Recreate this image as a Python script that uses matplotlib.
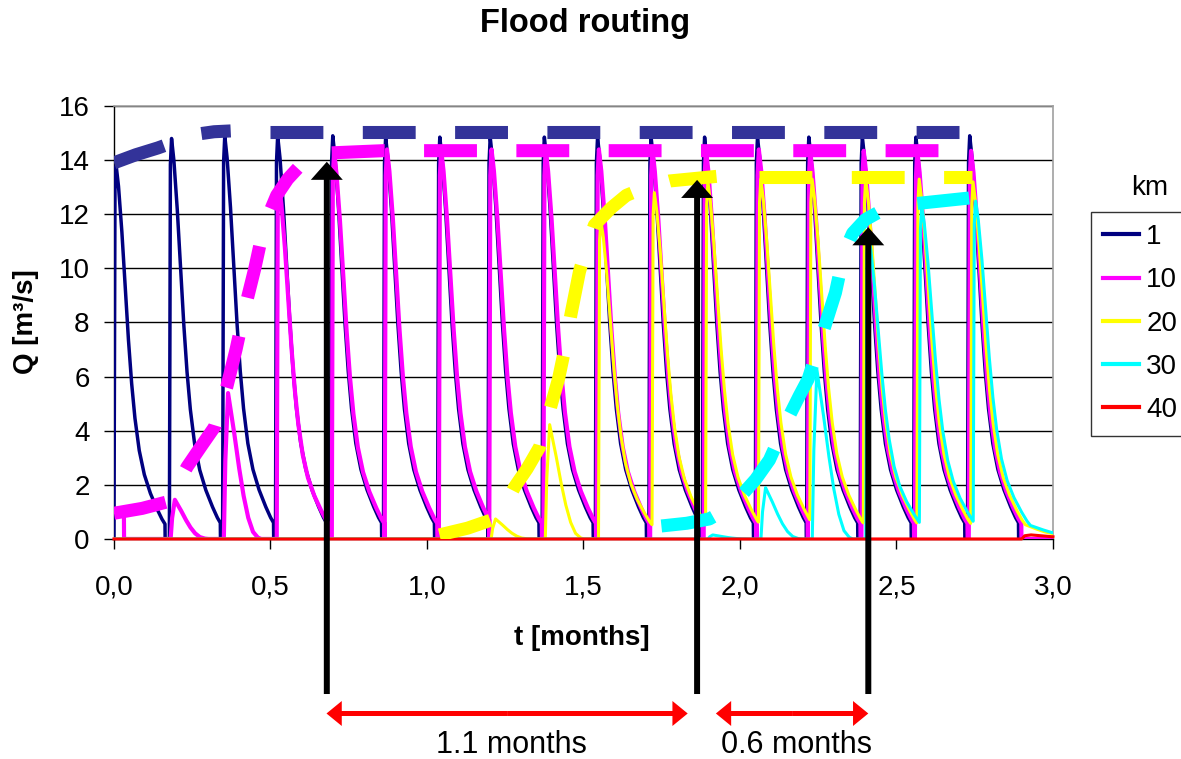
import numpy as np
import matplotlib
matplotlib.use("Agg")
import matplotlib.pyplot as plt

plt.rcParams["font.family"] = ["Liberation Sans", "DejaVu Sans"]

# ---------------------------------------------------------------- data
stations = ["1", "10", "20", "30", "40"]
line_colors = ["#000080", "#ff00ff", "#ffff00", "#00ffff", "#ff0000"]
line_widths = [2.5, 3.0, 2.2, 2.2, 2.2]
envelope_colors = ["#333399", "#ff00ff", "#ffff00", "#00ffff"]

# start of each rainfall pulse [months]
pulse_start = [0.000, 0.177, 0.347, 0.516, 0.692, 0.861, 1.034, 1.195, 1.368,
               1.538, 1.709, 1.880, 2.049, 2.213, 2.384, 2.555, 2.727]

# peak discharge of every pulse at each station [m3/s]
peak_km1 = [13.8, 14.8, 14.9, 14.9, 14.9, 14.85, 14.85, 14.85, 14.85,
            14.85, 14.85, 14.85, 14.85, 14.85, 14.85, 14.85, 14.9]
peak_km10 = [0.0, 1.45, 5.4, 13.1, 14.3, 14.4, 14.4, 14.4, 14.4,
             14.4, 14.4, 14.4, 14.4, 14.35, 14.35, 14.35, 14.35]
peak_km20 = [0.0, 0.0, 0.0, 0.0, 0.0, 0.0, 0.0, 0.74, 4.23,
             11.8, 12.8, 13.2, 13.3, 13.3, 13.3, 13.3, 13.2]
peak_km30 = [0.0, 0.0, 0.0, 0.0, 0.0, 0.0, 0.0, 0.0, 0.0,
             0.0, 0.0, 0.15, 1.9, 6.27, 11.3, 12.3, 12.5]

# initial flow at km 10 before it drains away
km10_initial_q = 1.0
km10_initial_until = 0.032

# pulses that reach a station only partly (no base flow behind them)
partial_km10 = [0, 1, 2]
partial_km20 = [7, 8]
partial_km30 = [11, 12, 13]

# travel lag [months] and spreading of the hydrograph at each station
travel_lag = [0.000, 0.004, 0.010, 0.018]
spreading = [1.00, 1.03, 1.07, 1.12]

# hydrograph of one pulse: time after onset [months], Q / Qpeak
full_dt = [0.000, 0.003, 0.007, 0.014, 0.024, 0.034, 0.044, 0.055, 0.066,
           0.080, 0.096, 0.115, 0.135, 0.152, 0.163]
full_ratio = [0.00, 0.93, 1.00, 0.95, 0.84, 0.70, 0.56, 0.43, 0.33,
              0.24, 0.175, 0.125, 0.085, 0.055, 0.040]
# recession tail further downstream
tail_dt = [0.190, 0.220, 0.260, 0.300]
tail_ratio = [0.030, 0.020, 0.012, 0.006]
# partly arriving pulse
partial_dt = [0.000, 0.004, 0.013, 0.030, 0.045, 0.060, 0.075, 0.090, 0.105, 0.115]
partial_ratio = [0.00, 0.50, 1.00, 0.76, 0.52, 0.31, 0.15, 0.05, 0.01, 0.00]

# km 40: only the first water at the very end
km40_t = [0.000, 2.900, 2.910, 2.930, 2.960, 3.000]
km40_q = [0.000, 0.000, 0.120, 0.150, 0.120, 0.080]

# sketched envelopes of the peaks: rising limb and plateau
env_km1_rise_t = [0.000, 0.070, 0.140, 0.200, 0.271, 0.320, 0.373]
env_km1_rise_q = [13.9, 14.2, 14.45, 14.7, 14.97, 15.05, 15.08]
env_km1_top_t = [0.498, 2.700]
env_km1_top_q = [15.05, 15.05]

env_km10_rise_t = [0.000, 0.090, 0.173, 0.234, 0.280, 0.322, 0.360, 0.390,
                   0.420, 0.450, 0.480, 0.520, 0.555, 0.587]
env_km10_rise_q = [0.95, 1.13, 1.38, 2.67, 3.45, 4.15, 5.6, 7.0,
                   8.6, 10.0, 11.6, 12.7, 13.3, 13.7]
env_km10_top_t = [0.696, 0.860, 2.700]
env_km10_top_q = [14.27, 14.35, 14.35]

env_km20_rise_t = [1.040, 1.130, 1.230, 1.280, 1.320, 1.360, 1.398, 1.420,
                   1.440, 1.460, 1.487, 1.510, 1.535, 1.590, 1.637, 1.700,
                   1.775, 1.925]
env_km20_rise_q = [0.15, 0.4, 0.8, 1.92, 2.6, 3.4, 5.0, 5.9,
                   7.0, 8.3, 9.87, 10.8, 11.6, 12.25, 12.7, 13.0,
                   13.23, 13.4]
env_km20_top_t = [2.062, 2.742]
env_km20_top_q = [13.39, 13.39]

env_km30_rise_t = [1.749, 1.830, 1.902, 1.950, 2.000, 2.050, 2.094, 2.154,
                   2.190, 2.218, 2.264, 2.305, 2.333, 2.360, 2.400, 2.439]
env_km30_rise_q = [0.48, 0.58, 0.74, 1.05, 1.55, 2.2, 2.92, 4.47,
                   5.3, 5.91, 7.6, 9.1, 10.6, 11.3, 11.8, 12.05]
env_km30_top_t = [2.567, 2.732]
env_km30_top_q = [12.4, 12.6]

# arrival of the flood front
arrival_t = [0.680, 1.863, 2.410]
arrival_q = [13.94, 13.27, 11.52]
arrow_base_q = -5.73
span_q = -6.45
span_from = [0.679, 1.923]
span_to = [1.833, 2.410]
span_labels = ["1.1 months", "0.6 months"]
span_label_t = [1.270, 2.182]
span_label_q = -7.6

# ---------------------------------------------------------------- series
t = np.linspace(0.0, 3.0, 12001)
ext_dt = full_dt + tail_dt
ext_ratio = full_ratio + tail_ratio
i_peak = int(np.argmax(full_ratio))


def hydrograph(peaks, partial, lag, spread, drops):
    q = np.zeros_like(t)
    starts = np.array(pulse_start) + lag
    ends = np.append(starts[1:], np.inf)
    carry = 0.0
    for k, (s, e, p) in enumerate(zip(starts, ends, peaks)):
        m = (t >= s) & (t < e)
        if p <= 0:
            carry = 0.0
            continue
        dt = (t[m] - s) / spread
        if k in partial:
            seg = p * np.interp(dt, partial_dt, partial_ratio, right=0.0)
        elif drops:
            seg = p * np.interp(dt, full_dt, full_ratio, right=0.0)
        else:
            seg = p * np.interp(dt, ext_dt, ext_ratio, right=0.0)
            rising = dt < full_dt[i_peak]
            seg[rising] = np.maximum(seg[rising], carry)
        q[m] = seg
        carry = seg[-1] if seg.size else 0.0
    return q


q_km1 = hydrograph(peak_km1, [], travel_lag[0], spreading[0], True)
q_km10 = hydrograph(peak_km10, partial_km10, travel_lag[1], spreading[1], True)
q_km10[t < km10_initial_until] = km10_initial_q
q_km20 = hydrograph(peak_km20, partial_km20, travel_lag[2], spreading[2], False)
q_km30 = hydrograph(peak_km30, partial_km30, travel_lag[3], spreading[3], False)
series = [q_km1, q_km10, q_km20, q_km30]

# ---------------------------------------------------------------- figure
fig = plt.figure(figsize=(11.81, 7.59), dpi=100)
ax = fig.add_axes([0.0965, 0.2899, 0.7951, 0.5704])

ax.set_xlim(0, 3)
ax.set_ylim(0, 16)
ax.set_yticks(np.arange(0, 17, 2))
ax.set_xticks(np.arange(0, 3.01, 0.5))
ax.set_xticklabels([f"{v:.1f}".replace(".", ",") for v in np.arange(0, 3.01, 0.5)])
ax.yaxis.grid(True, color="black", linewidth=1.0)
ax.set_axisbelow(True)
for side in ("top", "right"):
    ax.spines[side].set_color("#a0a0a0")
    ax.spines[side].set_linewidth(1.2)
for side in ("left", "bottom"):
    ax.spines[side].set_color("black")
    ax.spines[side].set_linewidth(1.0)
ax.tick_params(axis="y", length=7, width=1, pad=10.5, labelsize=20)
ax.tick_params(axis="x", length=7, width=1, pad=18.5, labelsize=20)

handles = []
for q, c, w, name in zip(series, line_colors, line_widths, stations):
    h, = ax.plot(t, q, color=c, lw=w, label=name, zorder=3)
    handles.append(h)
h40, = ax.plot(km40_t, km40_q, color=line_colors[4], lw=line_widths[4],
               label=stations[4], zorder=3, clip_on=False)
handles.append(h40)

envelopes = [
    (env_km1_rise_t, env_km1_rise_q, env_km1_top_t, env_km1_top_q),
    (env_km10_rise_t, env_km10_rise_q, env_km10_top_t, env_km10_top_q),
    (env_km20_rise_t, env_km20_rise_q, env_km20_top_t, env_km20_top_q),
    (env_km30_rise_t, env_km30_rise_q, env_km30_top_t, env_km30_top_q),
]
for (rt, rq, tt, tq), c in zip(envelopes, envelope_colors):
    for et, eq in ((rt, rq), (tt, tq)):
        ax.plot(et, eq, color=c, lw=9.4, linestyle=(0, (4.05, 3.02)), zorder=4,
                dash_capstyle="butt", dash_joinstyle="round")

# flood front arrivals
for ta, qa in zip(arrival_t, arrival_q):
    ax.annotate("", xy=(ta, qa), xytext=(ta, arrow_base_q),
                arrowprops=dict(facecolor="black", edgecolor="none", width=4.3,
                                headwidth=23, headlength=13, shrink=0),
                annotation_clip=False, zorder=6)

# travel times between the stations
for a, b, lab, tl in zip(span_from, span_to, span_labels, span_label_t):
    mid = 0.5 * (a + b)
    for end in (a, b):
        ax.annotate("", xy=(end, span_q), xytext=(mid, span_q),
                    arrowprops=dict(facecolor="#ff0000", edgecolor="none",
                                    width=3.6, headwidth=18, headlength=11,
                                    shrink=0),
                    annotation_clip=False, zorder=6)
    ax.text(tl, span_label_q, lab, ha="center", va="center", fontsize=22,
            clip_on=False)

fig.text(0.4953, 0.9693, "Flood routing", ha="center", va="center",
         fontsize=23.5, fontweight="bold")
fig.text(582 / 1181, 1 - 638 / 759, "t [months]", ha="center", va="center",
         fontsize=20, fontweight="bold")
fig.text(26 / 1181, 1 - 322 / 759, "Q [m³/s]", ha="center", va="center",
         fontsize=20, fontweight="bold", rotation=90)
fig.text(1150 / 1181, 1 - 188 / 759, "km", ha="center", va="center", fontsize=20)

leg = fig.legend(handles=handles, loc="upper left",
                 bbox_to_anchor=(1090.7 / 1181, 1 - 211.7 / 759),
                 fontsize=20, frameon=True, fancybox=False, edgecolor="black",
                 handlelength=1.3, handletextpad=0.25, labelspacing=0.62,
                 borderpad=0.45, borderaxespad=0)
leg.get_frame().set_linewidth(1.0)
for lh in leg.get_lines():
    lh.set_linewidth(3)

fig.savefig("out.png", dpi=100)
